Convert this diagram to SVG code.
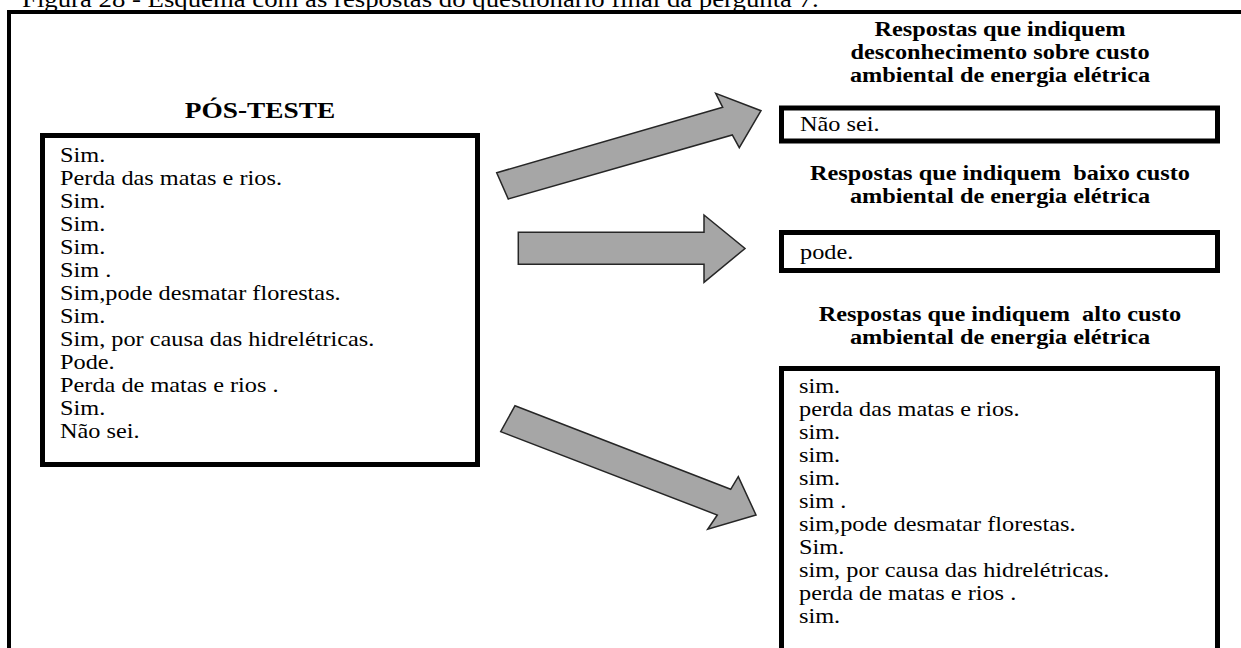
<svg xmlns="http://www.w3.org/2000/svg" width="1241" height="648" viewBox="0 0 1241 648">
  <style>
    .t{font-family:"Liberation Serif","Times New Roman",serif;font-size:20px;fill:#000}
    .cap{font-family:"Liberation Serif","Times New Roman",serif;font-size:22.3px;fill:#000}
    .h{font-family:"Liberation Serif","Times New Roman",serif;font-size:20px;font-weight:bold;fill:#000;text-anchor:middle}
    .ttl{font-family:"Liberation Serif","Times New Roman",serif;font-size:22.5px;font-weight:bold;fill:#000;text-anchor:middle}
    .box{fill:#fff;stroke:#000;stroke-width:5}
    .frame{fill:none;stroke:#000;stroke-width:4}
    .arrow{fill:#a6a6a6;stroke:#262626;stroke-width:1.5;stroke-linejoin:miter}
  </style>
  <rect width="1241" height="648" fill="#fff"/>

  <!-- figure caption (partly above the page edge) -->
  <text class="cap" transform="translate(22 7) scale(1.2 1)">Figura 28 - Esquema com as respostas do questionário final da pergunta 7.</text>

  <!-- outer frame -->
  <rect class="frame" x="9" y="12" width="1240" height="645"/>

  <!-- source answers -->
  <g id="pos-teste">
    <text class="ttl" transform="translate(260 118) scale(1.215 1)">PÓS-TESTE</text>
    <rect class="box" x="42.5" y="135.5" width="435" height="329"/>
    <text class="t" transform="translate(60 0) scale(1.215 1)">
      <tspan x="0" y="162">Sim.</tspan>
      <tspan x="0" y="185">Perda das matas e rios.</tspan>
      <tspan x="0" y="208">Sim.</tspan>
      <tspan x="0" y="231">Sim.</tspan>
      <tspan x="0" y="254">Sim.</tspan>
      <tspan x="0" y="277">Sim .</tspan>
      <tspan x="0" y="300">Sim,pode desmatar florestas.</tspan>
      <tspan x="0" y="323">Sim.</tspan>
      <tspan x="0" y="346">Sim, por causa das hidrelétricas.</tspan>
      <tspan x="0" y="369">Pode.</tspan>
      <tspan x="0" y="392">Perda de matas e rios .</tspan>
      <tspan x="0" y="415">Sim.</tspan>
      <tspan x="0" y="438">Não sei.</tspan>
    </text>
  </g>

  <!-- category: no knowledge -->
  <g id="desconhecimento">
    <text class="h" transform="translate(1000 36) scale(1.215 1)">Respostas que indiquem</text>
    <text class="h" transform="translate(1000 59) scale(1.215 1)">desconhecimento sobre custo</text>
    <text class="h" transform="translate(1000 82) scale(1.215 1)">ambiental de energia elétrica</text>
    <rect class="box" x="781.5" y="108" width="436" height="33"/>
    <text class="t" transform="translate(800 131) scale(1.215 1)">Não sei.</text>
  </g>

  <!-- category: low cost -->
  <g id="baixo-custo">
    <text class="h" xml:space="preserve" transform="translate(1000 180) scale(1.215 1)">Respostas que indiquem  baixo custo</text>
    <text class="h" transform="translate(1000 202.5) scale(1.215 1)">ambiental de energia elétrica</text>
    <rect class="box" x="781.5" y="232.5" width="436" height="38"/>
    <text class="t" transform="translate(800 259) scale(1.215 1)">pode.</text>
  </g>

  <!-- category: high cost -->
  <g id="alto-custo">
    <text class="h" xml:space="preserve" transform="translate(1000 321) scale(1.215 1)">Respostas que indiquem  alto custo</text>
    <text class="h" transform="translate(1000 343.5) scale(1.215 1)">ambiental de energia elétrica</text>
    <rect class="box" x="781.5" y="368.5" width="436" height="290"/>
    <text class="t" transform="translate(799 0) scale(1.215 1)">
      <tspan x="0" y="393">sim.</tspan>
      <tspan x="0" y="416">perda das matas e rios.</tspan>
      <tspan x="0" y="439">sim.</tspan>
      <tspan x="0" y="462">sim.</tspan>
      <tspan x="0" y="485">sim.</tspan>
      <tspan x="0" y="508">sim .</tspan>
      <tspan x="0" y="531">sim,pode desmatar florestas.</tspan>
      <tspan x="0" y="554">Sim.</tspan>
      <tspan x="0" y="577">sim, por causa das hidrelétricas.</tspan>
      <tspan x="0" y="600">perda de matas e rios .</tspan>
      <tspan x="0" y="623">sim.</tspan>
    </text>
  </g>

  <!-- block arrows -->
  <g id="connectors">
    <polygon class="arrow" points="496.7,172.7 722.7,107.3 715.7,93.3 761,110.7 739.3,147.7 732.3,135 508.3,199"/>
    <polygon class="arrow" points="518.3,232.3 704,232.3 704,215 745,248.5 704,282.3 704,264.3 518.3,264.3"/>
    <polygon class="arrow" points="515,405.7 730.7,489.3 738.3,476.7 756,515 707.7,529.3 717.3,515 500.7,431.7"/>
  </g>
</svg>
